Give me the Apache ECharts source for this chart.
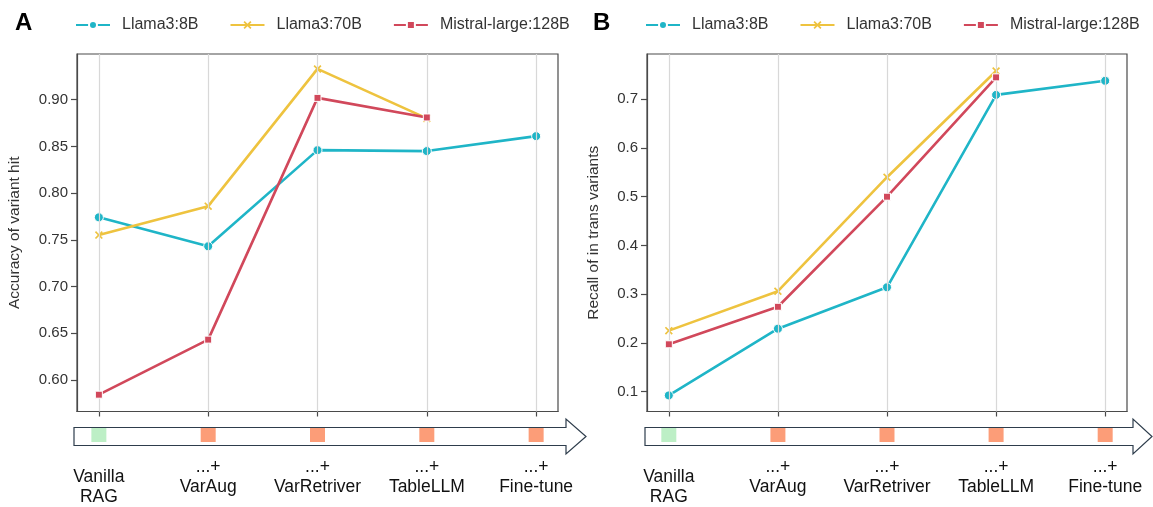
<!DOCTYPE html>
<html>
<head>
<meta charset="utf-8">
<script src="https://cdn.jsdelivr.net/npm/echarts@6/dist/echarts.min.js"></script>
<style>html,body{margin:0;padding:0;background:#fff}#c{width:1153px;height:507px}</style>
</head>
<body>
<div id="c"></div>
<script>
// ---- data ----
const stages = ['Vanilla RAG', '...+ VarAug', '...+ VarRetriver', '...+ TableLLM', '...+ Fine-tune'];
const stageKinds = ['base', 'add', 'add', 'add', 'add'];
const seriesNames = ['Llama3:8B', 'Llama3:70B', 'Mistral-large:128B'];

const accLlama8 = [0.774, 0.743, 0.846, 0.845, 0.861];
const accLlama70 = [0.755, 0.786, 0.933, 0.880, null];
const accMistral = [0.584, 0.643, 0.902, 0.881, null];

const recLlama8 = [0.092, 0.229, 0.314, 0.709, 0.738];
const recLlama70 = [0.225, 0.306, 0.540, 0.758, null];
const recMistral = [0.197, 0.274, 0.500, 0.745, null];

const accTicks = [0.60, 0.65, 0.70, 0.75, 0.80, 0.85, 0.90];
const recTicks = [0.1, 0.2, 0.3, 0.4, 0.5, 0.6, 0.7];
const stagePos = [1, 2, 3, 4, 5];

// ---- style ----
const FONT = 'Liberation Sans, Arial, sans-serif';
const AXC = '#4a4a4a';
const colors = ['#1fb5c7', '#eec33f', '#d1485b'];
const xPath = 'path://M1.5,0 L5,3.5 L8.5,0 L10,1.5 L6.5,5 L10,8.5 L8.5,10 L5,6.5 L1.5,10 L0,8.5 L3.5,5 L0,1.5 Z';
const symbols = ['circle', xPath, 'rect'];
const symSizes = [9, 8, 7];
const X_MIN = 0.8, X_MAX = 5.2;

const panels = [
  {left: 77, width: 481, yMin: 0.566, yMax: 0.949, ticks: accTicks, dec: 2, name: 'Accuracy of variant hit', gap: 54,
   data: [accLlama8, accLlama70, accMistral]},
  {left: 647, width: 480, yMin: 0.059, yMax: 0.793, ticks: recTicks, dec: 1, name: 'Recall of in trans variants', gap: 45,
   data: [recLlama8, recLlama70, recMistral]}
];

const grids = [], xAxes = [], yAxes = [], series = [];
panels.forEach((p, pi) => {
  grids.push({left: p.left, width: p.width, top: 54, height: 357.5, show: true, borderColor: AXC, borderWidth: 1.2, backgroundColor: 'transparent'});
  const gMain = pi;
  xAxes.push({gridIndex: gMain, type: 'value', min: X_MIN, max: X_MAX,
    axisLine: {show: true, onZero: false, lineStyle: {color: AXC, width: 1.2}}, splitLine: {show: false},
    axisTick: {show: true, customValues: stagePos, length: 5, lineStyle: {color: AXC, width: 1.2}},
    axisLabel: {show: false}});
  yAxes.push({gridIndex: gMain, type: 'value', min: p.yMin, max: p.yMax,
    name: p.name, nameLocation: 'middle', nameGap: p.gap,
    nameTextStyle: {fontFamily: FONT, fontSize: 15.5, color: '#333'},
    axisLine: {show: true, onZero: false, lineStyle: {color: AXC, width: 1.2}}, splitLine: {show: false},
    axisTick: {show: true, customValues: p.ticks, length: 6, lineStyle: {color: AXC, width: 1.2}},
    axisLabel: {show: true, customValues: p.ticks, margin: 9, fontFamily: FONT, fontSize: 15, color: '#333',
      formatter: v => v.toFixed(p.dec)}});
});
panels.forEach((p, pi) => {
  grids.push({left: p.left, width: p.width, top: 428, height: 17, show: false});
  const gLow = 2 + pi;
  xAxes.push({gridIndex: gLow, type: 'value', min: X_MIN, max: X_MAX,
    axisLine: {show: false, onZero: false}, splitLine: {show: false}, axisTick: {show: false},
    axisLabel: {show: true, customValues: stagePos, margin: 15, color: '#111', fontFamily: FONT, fontSize: 17.5, lineHeight: 20,
      formatter: v => {
        const s = stages[Math.round(v) - 1];
        if (s.startsWith('...+')) return '{t|...+}\n{t|' + s.slice(5) + '}';
        const parts = s.split(' ');
        return '{pad| }\n{t|' + parts[0] + '}\n{t|' + parts[1] + '}';
      },
      rich: {t: {fontFamily: FONT, fontSize: 17.5, lineHeight: 20, color: '#111'}, pad: {fontSize: 1, lineHeight: 10}}
    }});
  yAxes.push({gridIndex: gLow, type: 'value', min: 0, max: 1, show: false});
});

panels.forEach((p, pi) => {
  const gMain = pi, gLow = 2 + pi;
  // vertical gridlines at stages
  series.push({type: 'line', name: 'grid' + pi, xAxisIndex: gMain, yAxisIndex: gMain, data: [], z: 1, silent: true,
    markLine: {silent: true, symbol: 'none', label: {show: false}, animation: false,
      lineStyle: {color: '#d8d8d8', width: 1.2, type: 'solid'},
      data: stagePos.map(x => ({xAxis: x}))}});

  p.data.forEach((vals, si) => {
    series.push({type: 'line', name: seriesNames[si], xAxisIndex: gMain, yAxisIndex: gMain, z: 3 + si,
      data: vals.map((v, i) => [stagePos[i], v]),
      connectNulls: false,
      symbol: symbols[si], symbolSize: symSizes[si], showSymbol: true,
      lineStyle: {color: colors[si], width: 2.6},
      itemStyle: {color: colors[si], borderColor: '#fff', borderWidth: si === 1 ? 0 : 1},
      emphasis: {disabled: true}, animation: false});
  });

  series.push({type: 'custom', xAxisIndex: gLow, yAxisIndex: gLow, z: 5, silent: true, animation: false,
    data: stageKinds.map((k, i) => [stagePos[i], k === 'base' ? 0 : 1]),
    renderItem: (params, api) => {
      const x = api.value(0);
      const top = api.coord([x, 1]);
      const bot = api.coord([x, 0]);
      return {type: 'rect', shape: {x: top[0] - 7.5, y: top[1], width: 15, height: bot[1] - top[1]},
        style: {fill: api.value(1) === 0 ? '#bdefc6' : '#fc9d78'}};
    }});
});

function arrow(x0, x1, tip) {
  return {type: 'polygon', z: 0, silent: true,
    shape: {points: [[x0, 427.5], [x1, 427.5], [x1, 419], [tip, 436.5], [x1, 454], [x1, 445.5], [x0, 445.5]]},
    style: {fill: '#fff', stroke: '#2e3d4c', lineWidth: 1.2}};
}

const legendBase = {data: seriesNames, itemWidth: 34, itemHeight: 10, itemGap: 31, top: 12,
  textStyle: {fontFamily: FONT, fontSize: 16, color: '#333', padding: [0, 0, 0, 7]}, selectedMode: false};

const chart = echarts.init(document.getElementById('c'), null, {renderer: 'canvas'});
chart.setOption({
  backgroundColor: '#fff',
  animation: false,
  title: [
    {text: 'A', left: 10, top: 6, textStyle: {fontFamily: FONT, fontSize: 24, fontWeight: 'bold', color: '#000'}},
    {text: 'B', left: 588, top: 6, textStyle: {fontFamily: FONT, fontSize: 24, fontWeight: 'bold', color: '#000'}}
  ],
  legend: [Object.assign({left: 70}, legendBase), Object.assign({left: 640}, legendBase)],
  grid: grids, xAxis: xAxes, yAxis: yAxes, series: series,
  graphic: [arrow(74, 566, 586), arrow(645, 1133, 1152)]
});
</script>
</body>
</html>
